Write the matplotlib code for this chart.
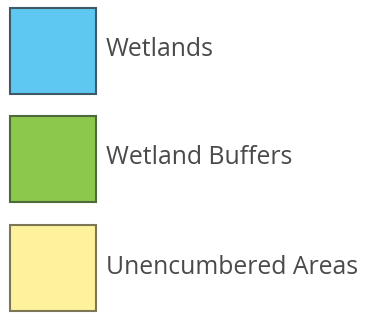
import matplotlib
matplotlib.use("Agg")
import matplotlib.pyplot as plt

# legend entries
labels = ["Wetlands", "Wetland Buffers", "Unencumbered Areas"]
colors = ["#5ec8f2", "#8cc84c", "#fff29c"]
edges = ["#3d5a66", "#4f6a3a", "#7a7656"]

fig = plt.figure(figsize=(3.66, 3.18), dpi=100)
ax = fig.add_axes([0, 0, 1, 1])
ax.set_xlim(0, 366)
ax.set_ylim(318, 0)
ax.axis("off")

tops = [8, 116, 225]
box = 86
for i, lab in enumerate(labels):
    ax.bar(10 + box / 2, box, bottom=tops[i], width=box,
           color=colors[i], edgecolor=edges[i], linewidth=1.5)
    ax.text(106, tops[i] + box / 2 - 1, lab, fontsize=17.8, color="#4a4a4a",
            family="Open Sans", va="center", ha="left")

fig.savefig("out.png", dpi=100, facecolor="white")
